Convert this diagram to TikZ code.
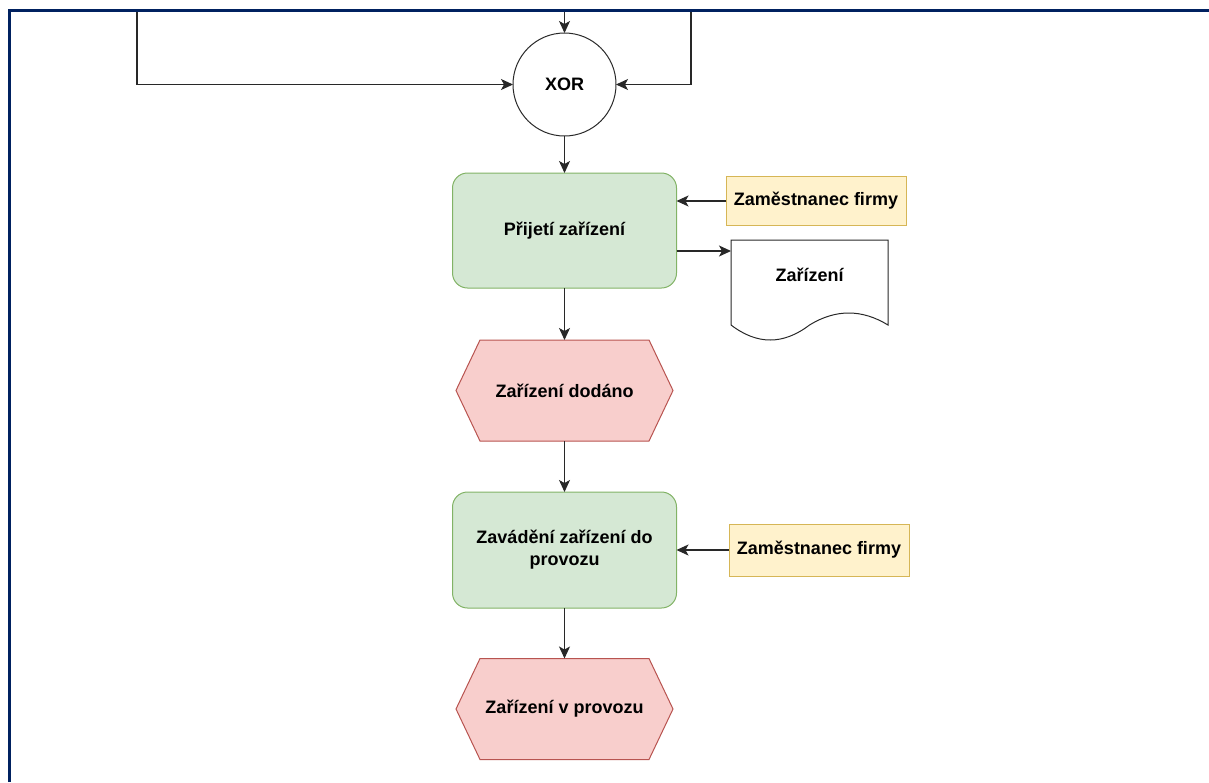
\documentclass[tikz,border=0pt]{standalone}
\usepackage{fontspec}
\setmainfont{Liberation Sans}
\usepackage{xcolor}
\usetikzlibrary{arrows.meta,calc,backgrounds}

\definecolor{framenavy}{RGB}{0,33,96}
\definecolor{funcline}{RGB}{130,179,102}
\definecolor{funcfill}{RGB}{213,232,212}
\definecolor{evtline}{RGB}{184,84,80}
\definecolor{evtfill}{RGB}{248,206,204}
\definecolor{orgline}{RGB}{214,182,86}
\definecolor{orgfill}{RGB}{255,242,204}
\definecolor{connline}{RGB}{40,40,40}

\begin{document}
\begin{tikzpicture}[x=1pt,y=-1pt,
    every node/.style={font=\fontsize{18}{22}\selectfont\bfseries,
      inner sep=0pt,outer sep=0pt,align=center},
    conn/.style={draw=connline,line width=1.1pt,
      -{Stealth[length=12pt,width=11pt,inset=3pt]}},
    func/.style={draw=funcline,fill=funcfill,line width=1pt,
      rounded corners=15pt,minimum width=224pt,minimum height=115pt},
    evt/.style={minimum width=217pt,minimum height=101pt},
    evtshape/.style={draw=evtline,fill=evtfill,line width=1pt},
    org/.style={draw=orgline,fill=orgfill,line width=1pt,
      minimum width=180pt,minimum height=49pt},
    gate/.style={circle,draw=connline,fill=white,line width=1pt,
      minimum size=103pt}]
      \useasboundingbox (0,0) rectangle (1209,782);

      \node[gate] (xor) at (564.5,84.5) {XOR};
      \node[func] (recv) at (564.5,230.5) {Přijetí zařízení};
      \node[org] (emp1) at (816,201) {Zaměstnanec firmy};
      \node[minimum width=157pt,minimum height=70pt] (doc) at (809.5,275) {Zařízení};
      \node[evt] (done) at (564.5,390.5) {Zařízení dodáno};
      \node[func,minimum height=116pt] (inst) at (564.5,550) {Zavádění zařízení do\\provozu};
      \node[org,minimum height=52pt] (emp2) at (819,550) {Zaměstnanec firmy};
      \node[evt] (run) at (564.5,709) {Zařízení v provozu};

      \begin{scope}[on background layer]
        \foreach \e in {done,run}
          \draw[evtshape]
            ($(\e.north west)+(24,0)$)
            -- (\e.west)
            -- ($(\e.south west)+(24,0)$)
            -- ($(\e.south east)+(-24,0)$)
            -- (\e.east)
            -- ($(\e.north east)+(-24,0)$)
            -- cycle;
      \end{scope}

      \draw[draw=connline,line width=1pt]
        (doc.north west)
        -- ($(doc.south west)+(0,15)$)
        .. controls +(26.2,20) and +(-26.2,20) ..
        ++(78.5,0)
        .. controls +(26.2,-16) and +(-26.2,-16) ..
        ++(78.5,0)
        -- (doc.north east)
        -- cycle;

      \coordinate (inL) at (137,11);
      \coordinate (inT) at (564.5,11);
      \coordinate (inR) at (691,11);
      \coordinate (recvout) at ($(recv.east)+(0,20.5)$);

      \draw[conn] (inL) |- (xor.west);
      \draw[conn] (inT) -- (xor.north);
      \draw[conn] (inR) |- (xor.east);
      \draw[conn] (xor.south) -- (recv.north);
      \draw[conn] (emp1.west) -- (emp1.west -| recv.east);
      \draw[conn] (recvout) -- (recvout -| doc.west);
      \draw[conn] (recv.south) -- (done.north);
      \draw[conn] (done.south) -- (inst.north);
      \draw[conn] (emp2.west) -- (emp2.west -| inst.east);
      \draw[conn] (inst.south) -- (run.north);

      \draw[framenavy,line width=3pt]
        (9.5,782) -- (9.5,10.5) -- (1209,10.5);
    \end{tikzpicture}
\end{document}
